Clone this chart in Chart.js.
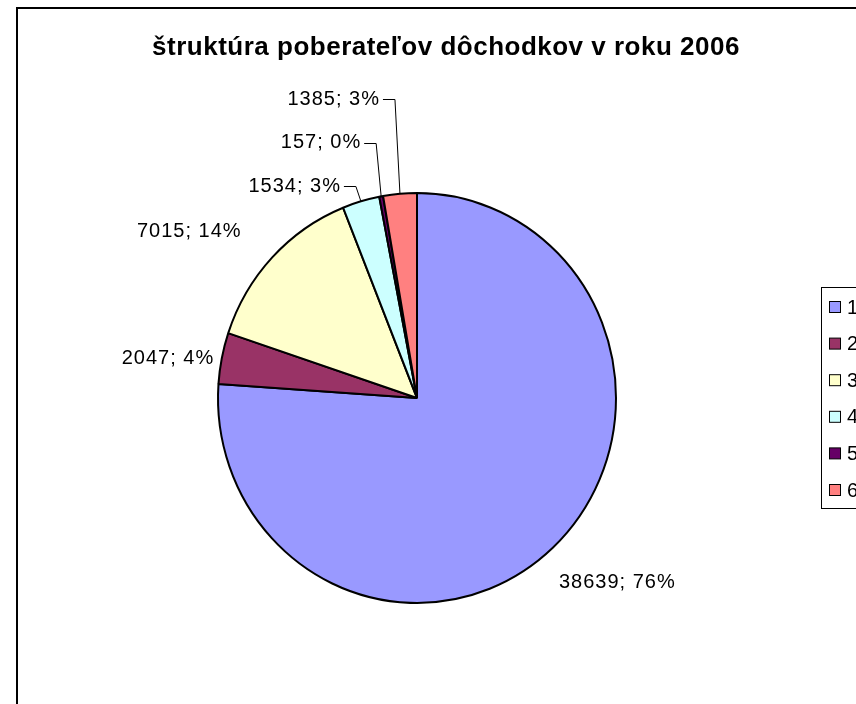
<!DOCTYPE html>
<html>
<head>
<meta charset="utf-8">
<title>štruktúra poberateľov dôchodkov v roku 2006</title>
<script src="https://cdn.jsdelivr.net/npm/chart.js@4.4.1/dist/chart.umd.min.js"></script>
<style>
    html, body { margin: 0; padding: 0; background: #fff; overflow: hidden; }
    canvas { display: block; }
</style>
</head>
<body>
<canvas id="pieChart" width="856" height="704"></canvas>
<script>
// Chart data
const chartTitle = 'štruktúra poberateľov dôchodkov v roku 2006';
const categories = ['1', '2', '3', '4', '5', '6'];
const pensioners = [38639, 2047, 7015, 1534, 157, 1385];

// Styles (old Excel palette)
const sliceColors = ['#9999FF', '#993366', '#FFFFCC', '#CCFFFF', '#660066', '#FF8080'];
const FONT = '"Liberation Sans", Arial, sans-serif';
const squash = 1.03; // the pie in the picture is a bit taller than wide

// Chart frame, partly cut off on the right and bottom
const frame = { left: 17, top: 8, right: 875, bottom: 760 };
const legendBox = { left: 821, top: 287, width: 60, height: 221, rowGap: 36.6 };
// hand placed label shifts (px), as in the original workbook
const labelNudge = [[7, 7], [17, 8], [-26, 0], [0, 0], [0, 0], [0, 0]];

document.addEventListener('DOMContentLoaded', function() {
    const ctx = document.getElementById('pieChart').getContext('2d');

    new Chart(ctx, {
        type: 'pie',
        data: {
            labels: categories,
            datasets: [{
                data: pensioners,
                backgroundColor: sliceColors,
                borderColor: '#000000',
                borderWidth: 2
            }]
        },
        options: {
            responsive: false,
            animation: false,
            layout: {
                padding: { left: 217, right: 239, top: 198, bottom: 106 }
            },
            plugins: {
                legend: { display: false },
                title: { display: false },
                tooltip: { enabled: false }
            }
        },
        plugins: [excelLook]
    });
});

/**
 * Draws frame, title, legend and data labels around the pie
 */
const excelLook = {
    id: 'excelLook',
    beforeDraw(chart) {
        const ctx = chart.ctx;
        ctx.save();
        ctx.fillStyle = '#ffffff';
        ctx.fillRect(0, 0, chart.width, chart.height);
        ctx.restore();
    },
    beforeDatasetsDraw(chart) {
        const arc = chart.getDatasetMeta(0).data[0];
        const ctx = chart.ctx;
        ctx.save();
        ctx.translate(arc.x, arc.y);
        ctx.scale(1, squash);
        ctx.translate(-arc.x, -arc.y);
    },
    afterDatasetsDraw(chart) {
        chart.ctx.restore();
        drawFrame(chart);
        drawTitle(chart);
        drawLegend(chart);
        drawLabels(chart);
    }
};

function drawFrame(chart) {
    const ctx = chart.ctx;
    ctx.save();
    ctx.strokeStyle = '#000000';
    ctx.lineWidth = 2;
    ctx.strokeRect(frame.left, frame.top, frame.right - frame.left, frame.bottom - frame.top);
    ctx.restore();
}

function drawTitle(chart) {
    const ctx = chart.ctx;
    ctx.save();
    ctx.font = 'bold 26px ' + FONT;
    ctx.letterSpacing = '0.5px';
    ctx.fillStyle = '#000000';
    ctx.textAlign = 'center';
    ctx.textBaseline = 'middle';
    ctx.fillText(chartTitle, (frame.left + frame.right) / 2, 48);
    ctx.restore();
}

function drawLegend(chart) {
    const ctx = chart.ctx;
    ctx.save();
    ctx.strokeStyle = '#000000';
    ctx.lineWidth = 1;
    ctx.strokeRect(legendBox.left + 0.5, legendBox.top + 0.5, legendBox.width, legendBox.height);

    ctx.font = '20px ' + FONT;
    ctx.textAlign = 'left';
    ctx.textBaseline = 'middle';
    categories.forEach((label, i) => {
        const y = legendBox.top + 20 + i * legendBox.rowGap;
        ctx.fillStyle = sliceColors[i];
        ctx.fillRect(legendBox.left + 8.5, y - 5.5, 11, 11);
        ctx.strokeRect(legendBox.left + 8.5, y - 5.5, 11, 11);
        ctx.fillStyle = '#000000';
        ctx.fillText(label, legendBox.left + 26, y + 1);
    });
    ctx.restore();
}

function drawLabels(chart) {
    const ctx = chart.ctx;
    const arcs = chart.getDatasetMeta(0).data;
    const total = pensioners.reduce((a, b) => a + b, 0);
    let stackY = null;

    ctx.save();
    ctx.font = '20px ' + FONT;
    ctx.letterSpacing = '1px';
    ctx.fillStyle = '#000000';
    ctx.strokeStyle = '#000000';
    ctx.lineWidth = 1;
    ctx.textBaseline = 'middle';

    arcs.forEach((arc, i) => {
        const share = pensioners[i] / total;
        const text = pensioners[i] + '; ' + Math.round(share * 100) + '%';
        const mid = (arc.startAngle + arc.endAngle) / 2;
        const cos = Math.cos(mid);
        const sin = Math.sin(mid);
        const r = arc.outerRadius;
        const edgeX = arc.x + r * cos;
        const edgeY = arc.y + r * sin * squash;
        const w = ctx.measureText(text).width;

        if (share < 0.035) {
            // thin slices at the top: labels stacked upwards with leader lines
            stackY = stackY === null ? edgeY - 15 : stackY - 43.5;
            const elbowX = edgeX - 5;
            ctx.textAlign = 'right';
            ctx.fillText(text, elbowX - 15, stackY);
            ctx.beginPath();
            ctx.moveTo(elbowX - 12, Math.round(stackY) + 0.5);
            ctx.lineTo(elbowX, Math.round(stackY) + 0.5);
            ctx.lineTo(edgeX, edgeY);
            ctx.stroke();
        } else {
            const d = r + 26;
            ctx.textAlign = 'center';
            ctx.fillText(text,
                arc.x + d * cos + w / 2 * cos + labelNudge[i][0],
                arc.y + d * sin * squash + 11 * sin + labelNudge[i][1]);
        }
    });
    ctx.restore();
}
</script>
</body>
</html>
